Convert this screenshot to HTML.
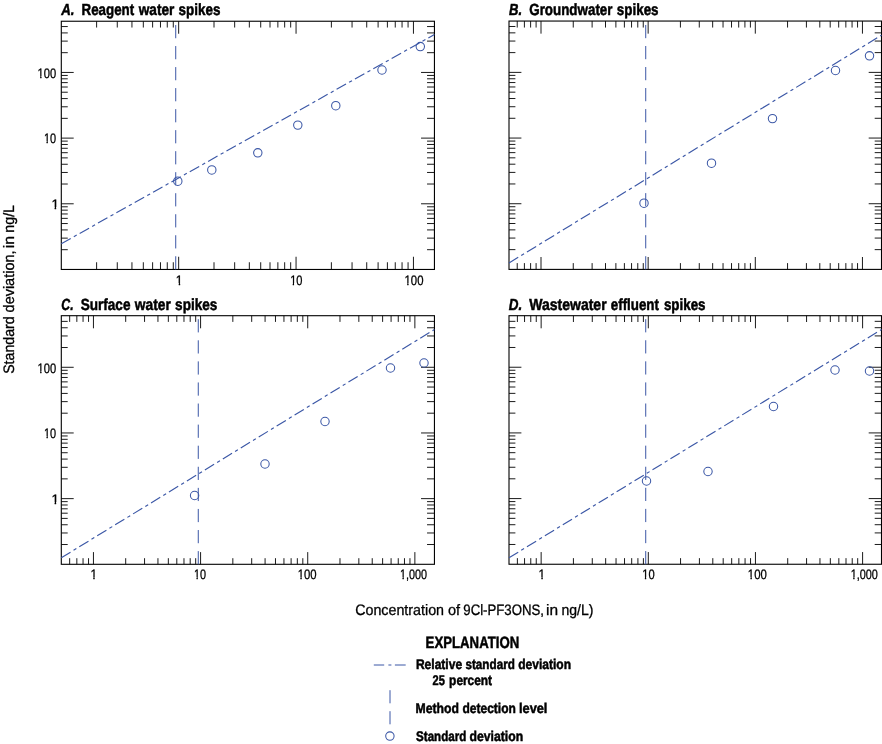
<!DOCTYPE html>
<html><head><meta charset="utf-8"><title>Figure</title>
<style>
html,body{margin:0;padding:0;background:#fff;}
svg{display:block;}
text{font-family:"Liberation Sans",sans-serif;fill:#000;text-rendering:geometricPrecision;}
</style></head><body>
<svg width="882" height="744" viewBox="0 0 882 744">
<rect width="882" height="744" fill="#fff"/>
<path d="M96.61 269.46v-7.2M96.61 21.24v6.3M117.28 269.46v-7.2M117.28 21.24v6.3M131.95 269.46v-7.2M131.95 21.24v6.3M143.32 269.46v-7.2M143.32 21.24v6.3M152.62 269.46v-7.2M152.62 21.24v6.3M160.48 269.46v-7.2M160.48 21.24v6.3M167.28 269.46v-7.2M167.28 21.24v6.3M173.29 269.46v-7.2M173.29 21.24v6.3M178.66 269.46v-12.7M178.66 21.24v12.5M214 269.46v-7.2M214 21.24v6.3M234.67 269.46v-7.2M234.67 21.24v6.3M249.34 269.46v-7.2M249.34 21.24v6.3M260.71 269.46v-7.2M260.71 21.24v6.3M270.01 269.46v-7.2M270.01 21.24v6.3M277.87 269.46v-7.2M277.87 21.24v6.3M284.67 269.46v-7.2M284.67 21.24v6.3M290.68 269.46v-7.2M290.68 21.24v6.3M296.05 269.46v-12.7M296.05 21.24v12.5M331.39 269.46v-7.2M331.39 21.24v6.3M352.06 269.46v-7.2M352.06 21.24v6.3M366.73 269.46v-7.2M366.73 21.24v6.3M378.1 269.46v-7.2M378.1 21.24v6.3M387.4 269.46v-7.2M387.4 21.24v6.3M395.26 269.46v-7.2M395.26 21.24v6.3M402.06 269.46v-7.2M402.06 21.24v6.3M408.07 269.46v-7.2M408.07 21.24v6.3M413.44 269.46v-12.7M413.44 21.24v12.5M61.3 249.69h6.45M434.44 249.69h-7.4M61.3 238.13h6.45M434.44 238.13h-7.4M61.3 229.92h6.45M434.44 229.92h-7.4M61.3 223.56h6.45M434.44 223.56h-7.4M61.3 218.36h6.45M434.44 218.36h-7.4M61.3 213.96h6.45M434.44 213.96h-7.4M61.3 210.15h6.45M434.44 210.15h-7.4M61.3 206.79h6.45M434.44 206.79h-7.4M61.3 203.79h12.4M434.44 203.79h-13.4M61.3 184.02h6.45M434.44 184.02h-7.4M61.3 172.46h6.45M434.44 172.46h-7.4M61.3 164.25h6.45M434.44 164.25h-7.4M61.3 157.89h6.45M434.44 157.89h-7.4M61.3 152.69h6.45M434.44 152.69h-7.4M61.3 148.29h6.45M434.44 148.29h-7.4M61.3 144.48h6.45M434.44 144.48h-7.4M61.3 141.12h6.45M434.44 141.12h-7.4M61.3 138.12h12.4M434.44 138.12h-13.4M61.3 118.35h6.45M434.44 118.35h-7.4M61.3 106.79h6.45M434.44 106.79h-7.4M61.3 98.58h6.45M434.44 98.58h-7.4M61.3 92.22h6.45M434.44 92.22h-7.4M61.3 87.02h6.45M434.44 87.02h-7.4M61.3 82.62h6.45M434.44 82.62h-7.4M61.3 78.81h6.45M434.44 78.81h-7.4M61.3 75.45h6.45M434.44 75.45h-7.4M61.3 72.45h12.4M434.44 72.45h-13.4M61.3 52.68h6.45M434.44 52.68h-7.4M61.3 41.12h6.45M434.44 41.12h-7.4M61.3 32.91h6.45M434.44 32.91h-7.4M61.3 26.55h6.45M434.44 26.55h-7.4" stroke="#000" stroke-width="0.9" fill="none"/>
<rect x="61.3" y="21.24" width="373.14" height="248.22" fill="none" stroke="#000" stroke-width="1.1"/>
<path d="M517.23 269.4v-6.3M517.23 21.05v6.5M524.4 269.4v-6.3M524.4 21.05v6.5M530.62 269.4v-6.3M530.62 21.05v6.5M536.1 269.4v-6.3M536.1 21.05v6.5M541 269.4v-12.4M541 21.05v12.6M573.26 269.4v-6.3M573.26 21.05v6.5M592.12 269.4v-6.3M592.12 21.05v6.5M605.51 269.4v-6.3M605.51 21.05v6.5M615.89 269.4v-6.3M615.89 21.05v6.5M624.38 269.4v-6.3M624.38 21.05v6.5M631.55 269.4v-6.3M631.55 21.05v6.5M637.77 269.4v-6.3M637.77 21.05v6.5M643.25 269.4v-6.3M643.25 21.05v6.5M648.15 269.4v-12.4M648.15 21.05v12.6M680.41 269.4v-6.3M680.41 21.05v6.5M699.27 269.4v-6.3M699.27 21.05v6.5M712.66 269.4v-6.3M712.66 21.05v6.5M723.04 269.4v-6.3M723.04 21.05v6.5M731.53 269.4v-6.3M731.53 21.05v6.5M738.7 269.4v-6.3M738.7 21.05v6.5M744.92 269.4v-6.3M744.92 21.05v6.5M750.4 269.4v-6.3M750.4 21.05v6.5M755.3 269.4v-12.4M755.3 21.05v12.6M787.56 269.4v-6.3M787.56 21.05v6.5M806.42 269.4v-6.3M806.42 21.05v6.5M819.81 269.4v-6.3M819.81 21.05v6.5M830.19 269.4v-6.3M830.19 21.05v6.5M838.68 269.4v-6.3M838.68 21.05v6.5M845.85 269.4v-6.3M845.85 21.05v6.5M852.07 269.4v-6.3M852.07 21.05v6.5M857.55 269.4v-6.3M857.55 21.05v6.5M862.45 269.4v-12.4M862.45 21.05v12.6M509 249.63h6.4M881.5 249.63h-6.8M509 238.07h6.4M881.5 238.07h-6.8M509 229.86h6.4M881.5 229.86h-6.8M509 223.5h6.4M881.5 223.5h-6.8M509 218.3h6.4M881.5 218.3h-6.8M509 213.9h6.4M881.5 213.9h-6.8M509 210.09h6.4M881.5 210.09h-6.8M509 206.73h6.4M881.5 206.73h-6.8M509 203.73h12.4M881.5 203.73h-12.8M509 183.96h6.4M881.5 183.96h-6.8M509 172.4h6.4M881.5 172.4h-6.8M509 164.19h6.4M881.5 164.19h-6.8M509 157.83h6.4M881.5 157.83h-6.8M509 152.63h6.4M881.5 152.63h-6.8M509 148.23h6.4M881.5 148.23h-6.8M509 144.42h6.4M881.5 144.42h-6.8M509 141.06h6.4M881.5 141.06h-6.8M509 138.06h12.4M881.5 138.06h-12.8M509 118.29h6.4M881.5 118.29h-6.8M509 106.73h6.4M881.5 106.73h-6.8M509 98.52h6.4M881.5 98.52h-6.8M509 92.16h6.4M881.5 92.16h-6.8M509 86.96h6.4M881.5 86.96h-6.8M509 82.56h6.4M881.5 82.56h-6.8M509 78.75h6.4M881.5 78.75h-6.8M509 75.39h6.4M881.5 75.39h-6.8M509 72.39h12.4M881.5 72.39h-12.8M509 52.62h6.4M881.5 52.62h-6.8M509 41.06h6.4M881.5 41.06h-6.8M509 32.85h6.4M881.5 32.85h-6.8M509 26.49h6.4M881.5 26.49h-6.8" stroke="#000" stroke-width="0.9" fill="none"/>
<rect x="509" y="21.05" width="372.5" height="248.35" fill="none" stroke="#000" stroke-width="1.1"/>
<path d="M69.67 564.3v-6.1M69.67 315.7v6.2M76.84 564.3v-6.1M76.84 315.7v6.2M83.06 564.3v-6.1M83.06 315.7v6.2M88.54 564.3v-6.1M88.54 315.7v6.2M93.44 564.3v-12.2M93.44 315.7v12.6M125.69 564.3v-6.1M125.69 315.7v6.2M144.56 564.3v-6.1M144.56 315.7v6.2M157.94 564.3v-6.1M157.94 315.7v6.2M168.33 564.3v-6.1M168.33 315.7v6.2M176.81 564.3v-6.1M176.81 315.7v6.2M183.98 564.3v-6.1M183.98 315.7v6.2M190.2 564.3v-6.1M190.2 315.7v6.2M195.68 564.3v-6.1M195.68 315.7v6.2M200.58 564.3v-12.2M200.58 315.7v12.6M232.83 564.3v-6.1M232.83 315.7v6.2M251.7 564.3v-6.1M251.7 315.7v6.2M265.08 564.3v-6.1M265.08 315.7v6.2M275.47 564.3v-6.1M275.47 315.7v6.2M283.95 564.3v-6.1M283.95 315.7v6.2M291.12 564.3v-6.1M291.12 315.7v6.2M297.34 564.3v-6.1M297.34 315.7v6.2M302.82 564.3v-6.1M302.82 315.7v6.2M307.72 564.3v-12.2M307.72 315.7v12.6M339.97 564.3v-6.1M339.97 315.7v6.2M358.84 564.3v-6.1M358.84 315.7v6.2M372.22 564.3v-6.1M372.22 315.7v6.2M382.61 564.3v-6.1M382.61 315.7v6.2M391.09 564.3v-6.1M391.09 315.7v6.2M398.26 564.3v-6.1M398.26 315.7v6.2M404.48 564.3v-6.1M404.48 315.7v6.2M409.96 564.3v-6.1M409.96 315.7v6.2M414.86 564.3v-12.2M414.86 315.7v12.6M61.3 544.53h6.4M434.44 544.53h-7.4M61.3 532.97h6.4M434.44 532.97h-7.4M61.3 524.76h6.4M434.44 524.76h-7.4M61.3 518.4h6.4M434.44 518.4h-7.4M61.3 513.2h6.4M434.44 513.2h-7.4M61.3 508.8h6.4M434.44 508.8h-7.4M61.3 504.99h6.4M434.44 504.99h-7.4M61.3 501.63h6.4M434.44 501.63h-7.4M61.3 498.63h12.4M434.44 498.63h-13.4M61.3 478.86h6.4M434.44 478.86h-7.4M61.3 467.3h6.4M434.44 467.3h-7.4M61.3 459.09h6.4M434.44 459.09h-7.4M61.3 452.73h6.4M434.44 452.73h-7.4M61.3 447.53h6.4M434.44 447.53h-7.4M61.3 443.13h6.4M434.44 443.13h-7.4M61.3 439.32h6.4M434.44 439.32h-7.4M61.3 435.96h6.4M434.44 435.96h-7.4M61.3 432.96h12.4M434.44 432.96h-13.4M61.3 413.19h6.4M434.44 413.19h-7.4M61.3 401.63h6.4M434.44 401.63h-7.4M61.3 393.42h6.4M434.44 393.42h-7.4M61.3 387.06h6.4M434.44 387.06h-7.4M61.3 381.86h6.4M434.44 381.86h-7.4M61.3 377.46h6.4M434.44 377.46h-7.4M61.3 373.65h6.4M434.44 373.65h-7.4M61.3 370.29h6.4M434.44 370.29h-7.4M61.3 367.29h12.4M434.44 367.29h-13.4M61.3 347.52h6.4M434.44 347.52h-7.4M61.3 335.96h6.4M434.44 335.96h-7.4M61.3 327.75h6.4M434.44 327.75h-7.4M61.3 321.39h6.4M434.44 321.39h-7.4" stroke="#000" stroke-width="0.9" fill="none"/>
<rect x="61.3" y="315.7" width="373.14" height="248.6" fill="none" stroke="#000" stroke-width="1.1"/>
<path d="M517.38 564.25v-6.1M517.38 315.7v6.3M524.55 564.25v-6.1M524.55 315.7v6.3M530.77 564.25v-6.1M530.77 315.7v6.3M536.25 564.25v-6.1M536.25 315.7v6.3M541.15 564.25v-12.2M541.15 315.7v12.6M573.41 564.25v-6.1M573.41 315.7v6.3M592.27 564.25v-6.1M592.27 315.7v6.3M605.66 564.25v-6.1M605.66 315.7v6.3M616.04 564.25v-6.1M616.04 315.7v6.3M624.53 564.25v-6.1M624.53 315.7v6.3M631.7 564.25v-6.1M631.7 315.7v6.3M637.92 564.25v-6.1M637.92 315.7v6.3M643.4 564.25v-6.1M643.4 315.7v6.3M648.3 564.25v-12.2M648.3 315.7v12.6M680.56 564.25v-6.1M680.56 315.7v6.3M699.42 564.25v-6.1M699.42 315.7v6.3M712.81 564.25v-6.1M712.81 315.7v6.3M723.19 564.25v-6.1M723.19 315.7v6.3M731.68 564.25v-6.1M731.68 315.7v6.3M738.85 564.25v-6.1M738.85 315.7v6.3M745.07 564.25v-6.1M745.07 315.7v6.3M750.55 564.25v-6.1M750.55 315.7v6.3M755.45 564.25v-12.2M755.45 315.7v12.6M787.71 564.25v-6.1M787.71 315.7v6.3M806.57 564.25v-6.1M806.57 315.7v6.3M819.96 564.25v-6.1M819.96 315.7v6.3M830.34 564.25v-6.1M830.34 315.7v6.3M838.83 564.25v-6.1M838.83 315.7v6.3M846 564.25v-6.1M846 315.7v6.3M852.22 564.25v-6.1M852.22 315.7v6.3M857.7 564.25v-6.1M857.7 315.7v6.3M862.6 564.25v-12.2M862.6 315.7v12.6M509 544.48h6.4M881.5 544.48h-6.8M509 532.92h6.4M881.5 532.92h-6.8M509 524.71h6.4M881.5 524.71h-6.8M509 518.35h6.4M881.5 518.35h-6.8M509 513.15h6.4M881.5 513.15h-6.8M509 508.75h6.4M881.5 508.75h-6.8M509 504.94h6.4M881.5 504.94h-6.8M509 501.58h6.4M881.5 501.58h-6.8M509 498.58h12.4M881.5 498.58h-12.8M509 478.81h6.4M881.5 478.81h-6.8M509 467.25h6.4M881.5 467.25h-6.8M509 459.04h6.4M881.5 459.04h-6.8M509 452.68h6.4M881.5 452.68h-6.8M509 447.48h6.4M881.5 447.48h-6.8M509 443.08h6.4M881.5 443.08h-6.8M509 439.27h6.4M881.5 439.27h-6.8M509 435.91h6.4M881.5 435.91h-6.8M509 432.91h12.4M881.5 432.91h-12.8M509 413.14h6.4M881.5 413.14h-6.8M509 401.58h6.4M881.5 401.58h-6.8M509 393.37h6.4M881.5 393.37h-6.8M509 387.01h6.4M881.5 387.01h-6.8M509 381.81h6.4M881.5 381.81h-6.8M509 377.41h6.4M881.5 377.41h-6.8M509 373.6h6.4M881.5 373.6h-6.8M509 370.24h6.4M881.5 370.24h-6.8M509 367.24h12.4M881.5 367.24h-12.8M509 347.47h6.4M881.5 347.47h-6.8M509 335.91h6.4M881.5 335.91h-6.8M509 327.7h6.4M881.5 327.7h-6.8M509 321.34h6.4M881.5 321.34h-6.8" stroke="#000" stroke-width="0.9" fill="none"/>
<rect x="509" y="315.7" width="372.5" height="248.55" fill="none" stroke="#000" stroke-width="1.1"/>
<line x1="61.3" y1="243.7" x2="434.44" y2="34.5" stroke="#3b57a6" stroke-width="1.15" stroke-dasharray="10.8 3.55 3.3 3.39"/>
<line x1="509" y1="263" x2="881.5" y2="35.2" stroke="#3b57a6" stroke-width="1.15" stroke-dasharray="10.8 3.55 3.3 3.39"/>
<line x1="61.3" y1="557.8" x2="434.44" y2="329.5" stroke="#3b57a6" stroke-width="1.15" stroke-dasharray="10.8 3.55 3.3 3.39"/>
<line x1="509" y1="557.8" x2="881.5" y2="329.5" stroke="#3b57a6" stroke-width="1.15" stroke-dasharray="10.8 3.55 3.3 3.39"/>
<line x1="175.72" y1="269.46" x2="175.72" y2="21.24" stroke="#3b57a6" stroke-width="1" stroke-dasharray="13.2 7.82"/>
<line x1="645.72" y1="269.4" x2="645.72" y2="21.05" stroke="#3b57a6" stroke-width="1" stroke-dasharray="13.2 7.82"/>
<line x1="198.28" y1="564.3" x2="198.28" y2="315.7" stroke="#3b57a6" stroke-width="1" stroke-dasharray="13.2 7.88"/>
<line x1="645.72" y1="564.25" x2="645.72" y2="315.7" stroke="#3b57a6" stroke-width="1" stroke-dasharray="13.2 7.88"/>
<circle cx="177.8" cy="181.2" r="4.2" fill="none" stroke="#3b57a6" stroke-width="1.05"/>
<circle cx="211.8" cy="169.95" r="4.2" fill="none" stroke="#3b57a6" stroke-width="1.05"/>
<circle cx="257.8" cy="152.8" r="4.2" fill="none" stroke="#3b57a6" stroke-width="1.05"/>
<circle cx="297.8" cy="125.1" r="4.2" fill="none" stroke="#3b57a6" stroke-width="1.05"/>
<circle cx="335.8" cy="105.7" r="4.2" fill="none" stroke="#3b57a6" stroke-width="1.05"/>
<circle cx="382" cy="70" r="4.2" fill="none" stroke="#3b57a6" stroke-width="1.05"/>
<circle cx="420.3" cy="46.6" r="4.2" fill="none" stroke="#3b57a6" stroke-width="1.05"/>
<circle cx="644" cy="203.2" r="4.2" fill="none" stroke="#3b57a6" stroke-width="1.05"/>
<circle cx="711.5" cy="163.2" r="4.2" fill="none" stroke="#3b57a6" stroke-width="1.05"/>
<circle cx="772.5" cy="118.6" r="4.2" fill="none" stroke="#3b57a6" stroke-width="1.05"/>
<circle cx="835.5" cy="70.5" r="4.2" fill="none" stroke="#3b57a6" stroke-width="1.05"/>
<circle cx="869.5" cy="55.8" r="4.2" fill="none" stroke="#3b57a6" stroke-width="1.05"/>
<circle cx="194.6" cy="495.5" r="4.2" fill="none" stroke="#3b57a6" stroke-width="1.05"/>
<circle cx="265" cy="464" r="4.2" fill="none" stroke="#3b57a6" stroke-width="1.05"/>
<circle cx="325" cy="421.5" r="4.2" fill="none" stroke="#3b57a6" stroke-width="1.05"/>
<circle cx="390.5" cy="368" r="4.2" fill="none" stroke="#3b57a6" stroke-width="1.05"/>
<circle cx="424" cy="363" r="4.2" fill="none" stroke="#3b57a6" stroke-width="1.05"/>
<circle cx="646.5" cy="481" r="4.2" fill="none" stroke="#3b57a6" stroke-width="1.05"/>
<circle cx="708" cy="471.5" r="4.2" fill="none" stroke="#3b57a6" stroke-width="1.05"/>
<circle cx="773.5" cy="406.5" r="4.2" fill="none" stroke="#3b57a6" stroke-width="1.05"/>
<circle cx="835" cy="370" r="4.2" fill="none" stroke="#3b57a6" stroke-width="1.05"/>
<circle cx="869.5" cy="371" r="4.2" fill="none" stroke="#3b57a6" stroke-width="1.05"/>
<path d="M373.8 665h10.4M388.4 665h3M394.9 665h10.8" stroke="#3b57a6" stroke-width="1" fill="none"/>
<path d="M390 690.2v13.1M390 711.2v13.1" stroke="#3b57a6" stroke-width="1" fill="none"/>
<circle cx="389.9" cy="736.1" r="4.2" fill="none" stroke="#3b57a6" stroke-width="1.05"/>
<text font-size="16.1" font-weight="bold" font-style="italic" stroke="#000" stroke-width="0.5" transform="translate(61.17 15)" y="0"><tspan x="0" textLength="13.26" lengthAdjust="spacingAndGlyphs">A.</tspan></text>
<text font-size="16.1" font-weight="bold" stroke="#000" stroke-width="0.5" transform="translate(81.51 15)" y="0"><tspan x="0" textLength="52.66" lengthAdjust="spacingAndGlyphs">Reagent</tspan> <tspan x="57.23" textLength="35.67" lengthAdjust="spacingAndGlyphs">water</tspan> <tspan x="97.12" textLength="41.82" lengthAdjust="spacingAndGlyphs">spikes</tspan></text>
<text font-size="16.1" font-weight="bold" font-style="italic" stroke="#000" stroke-width="0.5" transform="translate(508.97 15)" y="0"><tspan x="0" textLength="13.04" lengthAdjust="spacingAndGlyphs">B.</tspan></text>
<text font-size="16.1" font-weight="bold" stroke="#000" stroke-width="0.5" transform="translate(529.25 15)" y="0"><tspan x="0" textLength="83.25" lengthAdjust="spacingAndGlyphs">Groundwater</tspan> <tspan x="87.58" textLength="41.72" lengthAdjust="spacingAndGlyphs">spikes</tspan></text>
<text font-size="16.1" font-weight="bold" font-style="italic" stroke="#000" stroke-width="0.5" transform="translate(61.3 310)" y="0"><tspan x="0" textLength="12.24" lengthAdjust="spacingAndGlyphs">C.</tspan></text>
<text font-size="16.1" font-weight="bold" stroke="#000" stroke-width="0.5" transform="translate(80.71 310)" y="0"><tspan x="0" textLength="49.75" lengthAdjust="spacingAndGlyphs">Surface</tspan> <tspan x="54.13" textLength="35.97" lengthAdjust="spacingAndGlyphs">water</tspan> <tspan x="94.41" textLength="42.23" lengthAdjust="spacingAndGlyphs">spikes</tspan></text>
<text font-size="16.1" font-weight="bold" font-style="italic" stroke="#000" stroke-width="0.5" transform="translate(508.76 310)" y="0"><tspan x="0" textLength="13.43" lengthAdjust="spacingAndGlyphs">D.</tspan></text>
<text font-size="16.1" font-weight="bold" stroke="#000" stroke-width="0.5" transform="translate(529.19 310)" y="0"><tspan x="0" textLength="77.43" lengthAdjust="spacingAndGlyphs">Wastewater</tspan> <tspan x="81.59" textLength="48.18" lengthAdjust="spacingAndGlyphs">effluent</tspan> <tspan x="134.74" textLength="41.62" lengthAdjust="spacingAndGlyphs">spikes</tspan></text>
<clipPath id="c49"><path clip-rule="evenodd" d="M-20 -30H80V20H-20ZM-0.35 -2.02H2.66V2H-0.35ZM3.94 -2.02H6.46V2H3.94Z"/></clipPath>
<text font-size="13.7" clip-path="url(#c49)" stroke="#000" stroke-width="0.3" transform="translate(37.53 78)" y="0"><tspan x="0" textLength="18.61" lengthAdjust="spacingAndGlyphs">100</tspan></text>
<clipPath id="c51"><path clip-rule="evenodd" d="M-20 -30H80V20H-20ZM-0.37 -2.02H2.6V2H-0.37ZM3.87 -2.02H6.36V2H3.87Z"/></clipPath>
<text font-size="13.7" clip-path="url(#c51)" stroke="#000" stroke-width="0.3" transform="translate(43.95 143)" y="0"><tspan x="0" textLength="12.18" lengthAdjust="spacingAndGlyphs">10</tspan></text>
<clipPath id="c53"><path clip-rule="evenodd" d="M-20 -30H80V20H-20ZM-0.17 -2.02H3.25V2H-0.17ZM4.74 -2.02H7.66V2H4.74Z"/></clipPath>
<text font-size="13.7" clip-path="url(#c53)" stroke="#000" stroke-width="0.3" transform="translate(51.4 209)" y="0"><tspan x="0" textLength="7.53" lengthAdjust="spacingAndGlyphs">1</tspan></text>
<clipPath id="c55"><path clip-rule="evenodd" d="M-20 -30H80V20H-20ZM-0.35 -2.02H2.66V2H-0.35ZM3.94 -2.02H6.46V2H3.94Z"/></clipPath>
<text font-size="13.7" clip-path="url(#c55)" stroke="#000" stroke-width="0.3" transform="translate(37.53 373)" y="0"><tspan x="0" textLength="18.61" lengthAdjust="spacingAndGlyphs">100</tspan></text>
<clipPath id="c57"><path clip-rule="evenodd" d="M-20 -30H80V20H-20ZM-0.37 -2.02H2.6V2H-0.37ZM3.87 -2.02H6.36V2H3.87Z"/></clipPath>
<text font-size="13.7" clip-path="url(#c57)" stroke="#000" stroke-width="0.3" transform="translate(43.95 438)" y="0"><tspan x="0" textLength="12.18" lengthAdjust="spacingAndGlyphs">10</tspan></text>
<clipPath id="c59"><path clip-rule="evenodd" d="M-20 -30H80V20H-20ZM-0.17 -2.02H3.25V2H-0.17ZM4.74 -2.02H7.66V2H4.74Z"/></clipPath>
<text font-size="13.7" clip-path="url(#c59)" stroke="#000" stroke-width="0.3" transform="translate(51.4 504)" y="0"><tspan x="0" textLength="7.53" lengthAdjust="spacingAndGlyphs">1</tspan></text>
<clipPath id="c61"><path clip-rule="evenodd" d="M-20 -30H80V20H-20ZM-0.26 -2.02H2.94V2H-0.26ZM4.33 -2.02H7.04V2H4.33Z"/></clipPath>
<text font-size="13.7" clip-path="url(#c61)" stroke="#000" stroke-width="0.3" transform="translate(175.82 285)" y="0"><tspan x="0" textLength="6.84" lengthAdjust="spacingAndGlyphs">1</tspan></text>
<clipPath id="c63"><path clip-rule="evenodd" d="M-20 -30H80V20H-20ZM-0.36 -2.02H2.63V2H-0.36ZM3.91 -2.02H6.41V2H3.91Z"/></clipPath>
<text font-size="13.7" clip-path="url(#c63)" stroke="#000" stroke-width="0.3" transform="translate(290.14 285)" y="0"><tspan x="0" textLength="12.3" lengthAdjust="spacingAndGlyphs">10</tspan></text>
<clipPath id="c65"><path clip-rule="evenodd" d="M-20 -30H80V20H-20ZM-0.33 -2.02H2.71V2H-0.33ZM4.01 -2.02H6.56V2H4.01Z"/></clipPath>
<text font-size="13.7" clip-path="url(#c65)" stroke="#000" stroke-width="0.3" transform="translate(404.51 285)" y="0"><tspan x="0" textLength="18.94" lengthAdjust="spacingAndGlyphs">100</tspan></text>
<clipPath id="c67"><path clip-rule="evenodd" d="M-20 -30H80V20H-20ZM-0.29 -2.02H2.84V2H-0.29ZM4.19 -2.02H6.83V2H4.19Z"/></clipPath>
<text font-size="13.7" clip-path="url(#c67)" stroke="#000" stroke-width="0.3" transform="translate(90.46 579)" y="0"><tspan x="0" textLength="6.61" lengthAdjust="spacingAndGlyphs">1</tspan></text>
<clipPath id="c69"><path clip-rule="evenodd" d="M-20 -30H80V20H-20ZM-0.37 -2.02H2.58V2H-0.37ZM3.84 -2.02H6.31V2H3.84Z"/></clipPath>
<text font-size="13.7" clip-path="url(#c69)" stroke="#000" stroke-width="0.3" transform="translate(193.96 579)" y="0"><tspan x="0" textLength="12.07" lengthAdjust="spacingAndGlyphs">10</tspan></text>
<clipPath id="c71"><path clip-rule="evenodd" d="M-20 -30H80V20H-20ZM-0.33 -2.02H2.71V2H-0.33ZM4.01 -2.02H6.56V2H4.01Z"/></clipPath>
<text font-size="13.7" clip-path="url(#c71)" stroke="#000" stroke-width="0.3" transform="translate(297.71 579)" y="0"><tspan x="0" textLength="18.94" lengthAdjust="spacingAndGlyphs">100</tspan></text>
<clipPath id="c73"><path clip-rule="evenodd" d="M-20 -30H80V20H-20ZM-0.38 -2.02H2.57V2H-0.38ZM3.83 -2.02H6.29V2H3.83Z"/></clipPath>
<text font-size="13.7" clip-path="url(#c73)" stroke="#000" stroke-width="0.3" transform="translate(399.96 579)" y="0"><tspan x="0" textLength="27.06" lengthAdjust="spacingAndGlyphs">1,000</tspan></text>
<clipPath id="c75"><path clip-rule="evenodd" d="M-20 -30H80V20H-20ZM-0.29 -2.02H2.84V2H-0.29ZM4.19 -2.02H6.83V2H4.19Z"/></clipPath>
<text font-size="13.7" clip-path="url(#c75)" stroke="#000" stroke-width="0.3" transform="translate(538.56 579)" y="0"><tspan x="0" textLength="6.61" lengthAdjust="spacingAndGlyphs">1</tspan></text>
<clipPath id="c77"><path clip-rule="evenodd" d="M-20 -30H80V20H-20ZM-0.35 -2.02H2.66V2H-0.35ZM3.94 -2.02H6.46V2H3.94Z"/></clipPath>
<text font-size="13.7" clip-path="url(#c77)" stroke="#000" stroke-width="0.3" transform="translate(642.23 579)" y="0"><tspan x="0" textLength="12.41" lengthAdjust="spacingAndGlyphs">10</tspan></text>
<clipPath id="c79"><path clip-rule="evenodd" d="M-20 -30H80V20H-20ZM-0.33 -2.02H2.72V2H-0.33ZM4.03 -2.02H6.59V2H4.03Z"/></clipPath>
<text font-size="13.7" clip-path="url(#c79)" stroke="#000" stroke-width="0.3" transform="translate(747.8 579)" y="0"><tspan x="0" textLength="19.04" lengthAdjust="spacingAndGlyphs">100</tspan></text>
<clipPath id="c81"><path clip-rule="evenodd" d="M-20 -30H80V20H-20ZM-0.37 -2.02H2.59V2H-0.37ZM3.86 -2.02H6.33V2H3.86Z"/></clipPath>
<text font-size="13.7" clip-path="url(#c81)" stroke="#000" stroke-width="0.3" transform="translate(850.65 579)" y="0"><tspan x="0" textLength="27.27" lengthAdjust="spacingAndGlyphs">1,000</tspan></text>
<text font-size="15.1" stroke="#000" stroke-width="0.3" transform="translate(355.18 615)" y="0"><tspan x="0" textLength="88.85" lengthAdjust="spacingAndGlyphs">Concentration</tspan> <tspan x="92.72" textLength="12.09" lengthAdjust="spacingAndGlyphs">of</tspan> <tspan x="108.11" textLength="80.71" lengthAdjust="spacingAndGlyphs">9Cl-PF3ONS,</tspan> <tspan x="190.79" textLength="12.04" lengthAdjust="spacingAndGlyphs">in</tspan> <tspan x="206.29" textLength="32" lengthAdjust="spacingAndGlyphs">ng/L)</tspan></text>
<text font-size="15.1" stroke="#000" stroke-width="0.3" transform="translate(14 373.84) rotate(-90)" y="0"><tspan x="0" textLength="57.56" lengthAdjust="spacingAndGlyphs">Standard</tspan> <tspan x="61.44" textLength="61.91" lengthAdjust="spacingAndGlyphs">deviation,</tspan> <tspan x="125.59" textLength="12.28" lengthAdjust="spacingAndGlyphs">in</tspan> <tspan x="141.09" textLength="27.82" lengthAdjust="spacingAndGlyphs">ng/L</tspan></text>
<text font-size="16.4" font-weight="bold" stroke="#000" stroke-width="0.5" transform="translate(425.62 648)" y="0"><tspan x="0" textLength="93.57" lengthAdjust="spacingAndGlyphs">EXPLANATION</tspan></text>
<text font-size="14.0" font-weight="bold" stroke="#000" stroke-width="0.5" transform="translate(415.89 669)" y="0"><tspan x="0" textLength="46.22" lengthAdjust="spacingAndGlyphs">Relative</tspan> <tspan x="49.59" textLength="49.38" lengthAdjust="spacingAndGlyphs">standard</tspan> <tspan x="102.31" textLength="52.84" lengthAdjust="spacingAndGlyphs">deviation</tspan></text>
<text font-size="14.0" font-weight="bold" stroke="#000" stroke-width="0.5" transform="translate(432.62 685)" y="0"><tspan x="0" textLength="12.29" lengthAdjust="spacingAndGlyphs">25</tspan> <tspan x="16.5" textLength="42.93" lengthAdjust="spacingAndGlyphs">percent</tspan></text>
<text font-size="14.0" font-weight="bold" stroke="#000" stroke-width="0.5" transform="translate(415.58 713)" y="0"><tspan x="0" textLength="43.42" lengthAdjust="spacingAndGlyphs">Method</tspan> <tspan x="46.93" textLength="53.34" lengthAdjust="spacingAndGlyphs">detection</tspan> <tspan x="103.43" textLength="28.4" lengthAdjust="spacingAndGlyphs">level</tspan></text>
<text font-size="14.0" font-weight="bold" stroke="#000" stroke-width="0.5" transform="translate(416.07 741)" y="0"><tspan x="0" textLength="50.2" lengthAdjust="spacingAndGlyphs">Standard</tspan> <tspan x="53.53" textLength="53.56" lengthAdjust="spacingAndGlyphs">deviation</tspan></text>
</svg>
</body></html>
